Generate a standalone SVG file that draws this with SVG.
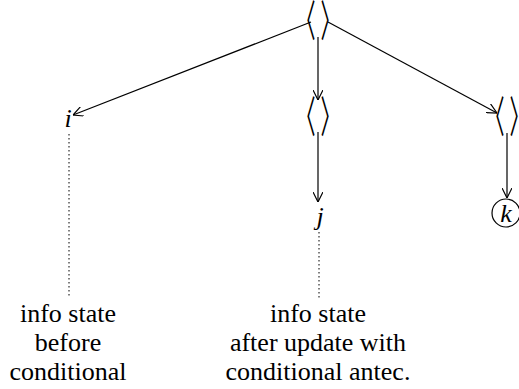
<svg xmlns="http://www.w3.org/2000/svg" width="519" height="389" viewBox="0 0 519 389">
<defs>
<style>
.lbl{font-family:"Liberation Serif","Times New Roman",serif;font-size:26px;text-anchor:middle;fill:#000}
.var{font-family:"Liberation Serif","Times New Roman",serif;font-size:26px;font-style:italic;text-anchor:middle;fill:#000}
.br{font-family:"Noto Sans CJK JP",sans-serif;font-size:36px;font-weight:400;text-anchor:middle;letter-spacing:9px;fill:#000}
.edge{stroke:#000;stroke-width:1.2;fill:none}
.dot{stroke:#000;stroke-width:1;stroke-dasharray:1.5 2.5;fill:none}
</style>
<marker id="arr" viewBox="0 0 10 10" refX="10" refY="5" markerWidth="10" markerHeight="10" markerUnits="userSpaceOnUse" orient="auto">
<path d="M0,0 L10,5 L0,10" fill="none" stroke="#000" stroke-width="1.2"/>
</marker>
</defs>
<rect width="519" height="389" fill="#fff"/>
<g id="connectors">
<line class="edge" x1="311" y1="22" x2="73" y2="115" marker-end="url(#arr)"/>
<line class="edge" x1="318" y1="37" x2="318" y2="100" marker-end="url(#arr)"/>
<line class="edge" x1="328" y1="22" x2="497" y2="113" marker-end="url(#arr)"/>
<line class="edge" x1="318" y1="132" x2="318" y2="202" marker-end="url(#arr)"/>
<line class="edge" x1="507" y1="133" x2="507" y2="198" marker-end="url(#arr)"/>
<line class="dot" x1="69" y1="134" x2="69" y2="298"/>
<line class="dot" x1="319" y1="232" x2="319" y2="298"/>
</g>
<g id="root"><text class="br" x="4.5" y="14" transform="translate(318 20) scale(0.55 1.2)">〈〉</text></g>
<g id="mid"><text class="br" x="4.5" y="14" transform="translate(318 116) scale(0.55 1.2)">〈〉</text></g>
<g id="right"><text class="br" x="4.5" y="14" transform="translate(507 116) scale(0.55 1.2)">〈〉</text></g>
<g id="i"><text class="var" x="68" y="127">i</text></g>
<g id="j"><text class="var" x="320" y="225">j</text></g>
<g id="k"><circle cx="506" cy="213" r="14" fill="none" stroke="#000" stroke-width="1.2"/><text class="var" x="506" y="222">k</text></g>
<g id="labelBefore"><text class="lbl" x="68" y="322">info state</text><text class="lbl" x="68" y="351">before</text><text class="lbl" x="68" y="380">conditional</text></g>
<g id="labelAfter"><text class="lbl" x="318" y="322">info state</text><text class="lbl" x="318" y="351">after update with</text><text class="lbl" x="318" y="380">conditional antec.</text></g>
</svg>
